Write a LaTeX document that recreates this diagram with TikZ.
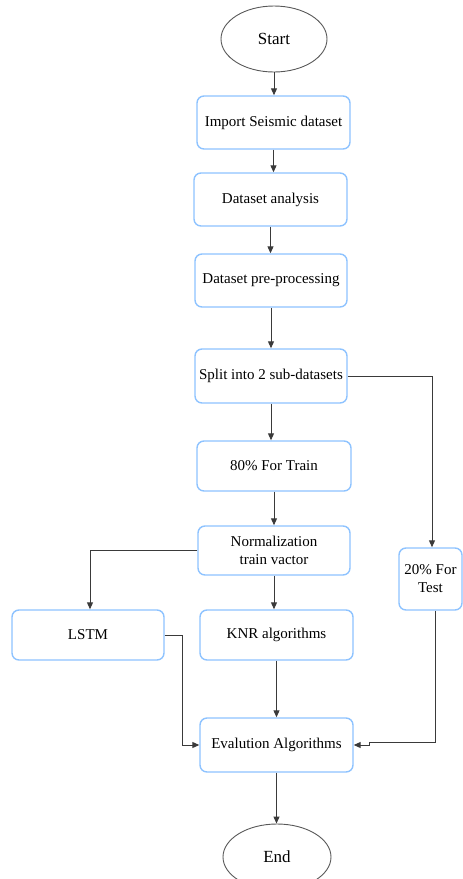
\documentclass[tikz,border=0pt]{standalone}
\usepackage{fontspec}
\setmainfont{Liberation Serif}
\usetikzlibrary{arrows.meta,shapes.geometric,calc}
\definecolor{boxblue}{HTML}{8EC3FF}
\definecolor{linegray}{HTML}{3A3A3A}
\tikzset{
  stepbox/.style={draw=boxblue, line width=1.4pt, rounded corners=7pt, fill=white,
    align=center, inner sep=0pt, font=\fontsize{15}{18}\selectfont},
  term/.style={draw=linegray!85, line width=0.9pt, ellipse, inner sep=0pt,
    font=\fontsize{17}{20}\selectfont},
  conn/.style={draw=linegray, line width=1pt, -{Triangle[length=7pt,width=6pt]}},
}
\begin{document}
\begin{tikzpicture}[x=1pt,y=-1pt]
\clip (0,0) rectangle (463,879);
\useasboundingbox (0,0) rectangle (463,879);
\node[term, minimum width=106pt, minimum height=66pt] (start) at (274,39) {Start};
\node[stepbox, minimum width=153pt, minimum height=53pt] (import) at (273.5,122.5) {Import Seismic dataset};
\node[stepbox, minimum width=153pt, minimum height=53pt] (analysis) at (270.5,199.5) {Dataset analysis};
\node[stepbox, minimum width=152pt, minimum height=53pt] (prep) at (271,280.5) {Dataset pre-processing};
\node[stepbox, minimum width=152pt, minimum height=54pt] (split) at (271,376) {Split into 2 sub-datasets};
\node[stepbox, minimum width=154pt, minimum height=50pt] (train) at (274,466) {80\% For Train};
\node[stepbox, minimum width=152pt, minimum height=49pt] (norm) at (274,550.5) {Normalization\\train vactor};
\node[stepbox, minimum width=63pt, minimum height=62pt] (test) at (430.5,579) {20\% For\\Test};
\node[stepbox, minimum width=152pt, minimum height=50pt] (lstm) at (88,635) {LSTM};
\node[stepbox, minimum width=153pt, minimum height=50pt] (knr) at (276.5,635) {KNR algorithms};
\node[stepbox, minimum width=153pt, minimum height=54pt] (eval) at (276.5,745) {Evalution Algorithms};
\node[term, minimum width=108pt, minimum height=66pt] (end) at (277,857) {End};

\draw[conn] (start.south) -- (start.south |- import.north);
\draw[conn] (import.south) -- (import.south |- analysis.north);
\draw[conn] (analysis.south) -- (analysis.south |- prep.north);
\draw[conn] (prep.south) -- (prep.south |- split.north);
\draw[conn] (split.south) -- (split.south |- train.north);
\draw[conn] (train.south) -- (train.south |- norm.north);
\draw[conn] (split.east) -| ($(test.north)+(1.5,0)$);
\draw[conn] (norm.west) -| ($(lstm.north)+(2,0)$);
\draw[conn] (norm.south) -- (norm.south |- knr.north);
\draw[conn] (knr.south) -- (knr.south |- eval.north);
\draw[conn] (lstm.east) -- ++(18,0) |- (eval.west);
\coordinate (jog) at (369,742);
\draw[conn] ($(test.south)+(5,0)$) |- (jog) |- (eval.east);
\draw[conn] (eval.south) -- (eval.south |- end.north);
\end{tikzpicture}
\end{document}
